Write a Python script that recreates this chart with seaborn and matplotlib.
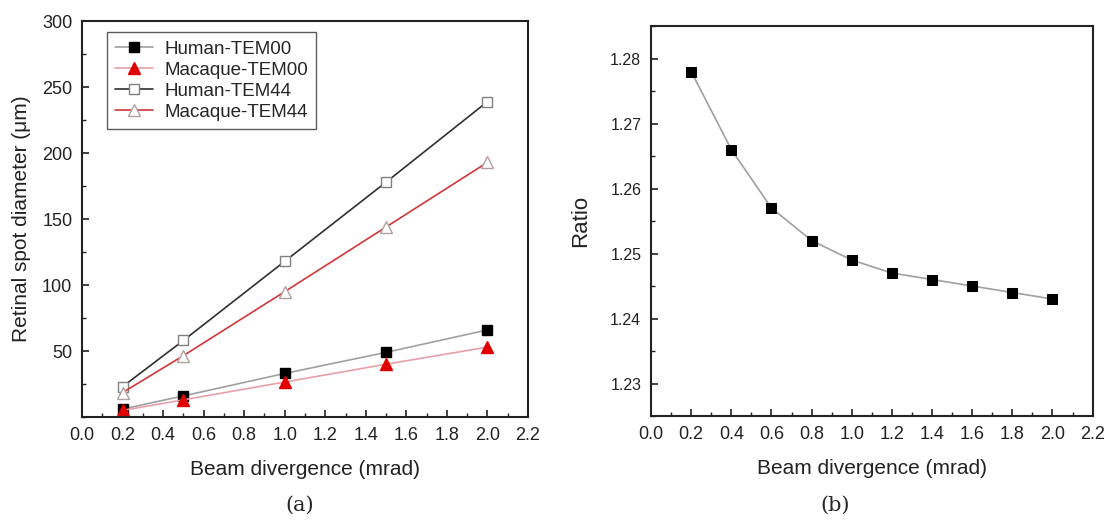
import numpy as np
import pandas as pd
import matplotlib
matplotlib.use("Agg")
import matplotlib.pyplot as plt
from matplotlib.ticker import MultipleLocator, FormatStrFormatter
import seaborn as sns

# panel (a): retinal spot diameter vs beam divergence
div_a = [0.2, 0.5, 1.0, 1.5, 2.0]
human_tem00 = [6, 16, 33, 49, 66]
macaque_tem00 = [5, 13, 26.5, 40, 53]
human_tem44 = [23, 58, 118, 178, 239]
macaque_tem44 = [18.5, 46.5, 95, 144, 193]

# panel (b): ratio human / macaque
div_b = [0.2, 0.4, 0.6, 0.8, 1.0, 1.2, 1.4, 1.6, 1.8, 2.0]
ratio = [1.278, 1.266, 1.257, 1.252, 1.249, 1.247, 1.246, 1.245, 1.244, 1.243]

x_ticks = [0.0, 0.2, 0.4, 0.6, 0.8, 1.0, 1.2, 1.4, 1.6, 1.8, 2.0, 2.2]

sns.set_style("ticks")
plt.rcParams["font.family"] = ["Liberation Sans", "DejaVu Sans"]
plt.rcParams["xtick.direction"] = "in"
plt.rcParams["ytick.direction"] = "in"

fig = plt.figure(figsize=(11.04, 5.27), dpi=100)
ax1 = fig.add_axes([0.0743, 0.2087, 0.4040, 0.7513])
ax2 = fig.add_axes([0.5897, 0.2106, 0.4000, 0.7400])

series = [
    ("Human-TEM00", human_tem00, dict(color="#a0a0a0", marker="s", markerfacecolor="black",
                                      markeredgecolor="black", markersize=7)),
    ("Macaque-TEM00", macaque_tem00, dict(color="#e8a0a8", marker="^", markerfacecolor="#e00000",
                                          markeredgecolor="#e00000", markersize=8)),
    ("Human-TEM44", human_tem44, dict(color="#303030", marker="s", markerfacecolor="white",
                                      markeredgecolor="#808080", markersize=7)),
    ("Macaque-TEM44", macaque_tem44, dict(color="#d03838", marker="^", markerfacecolor="white",
                                          markeredgecolor="#b0a0a0", markersize=9)),
]
for name, vals, style in series:
    sns.lineplot(x=div_a, y=vals, ax=ax1, label=name, linewidth=1.2,
                 markeredgewidth=1.0, **style)

ax1.set_ylim(0, 300)
ax1.set_yticks([50, 100, 150, 200, 250, 300])
ax1.yaxis.set_minor_locator(MultipleLocator(25))
ax1.set_xlabel("Beam divergence (mrad)", fontsize=15, labelpad=12, color="#222222")
ax1.set_ylabel("Retinal spot diameter (\u03bcm)", fontsize=15, labelpad=8, color="#222222")
leg = ax1.legend(loc="upper left", bbox_to_anchor=(0.035, 0.995), fontsize=13.5,
                 frameon=True, fancybox=False, edgecolor="#333333", handlelength=2.0,
                 borderpad=0.45, labelspacing=0.2, handletextpad=0.6)
leg.get_frame().set_linewidth(1.0)

sns.lineplot(x=div_b, y=ratio, ax=ax2, color="#a0a0a0", linewidth=1.2, marker="s",
             markerfacecolor="black", markeredgecolor="black", markersize=7)
ax2.set_ylim(1.225, 1.285)
ax2.set_yticks([1.23, 1.24, 1.25, 1.26, 1.27, 1.28])
ax2.yaxis.set_minor_locator(MultipleLocator(0.005))
ax2.set_xlabel("Beam divergence (mrad)", fontsize=15, labelpad=12, color="#222222")
ax2.set_ylabel("Ratio", fontsize=16, labelpad=14, color="#222222")

for ax in (ax1, ax2):
    ax.set_xticks(x_ticks)
    ax.xaxis.set_major_formatter(FormatStrFormatter("%.1f"))
    ax.xaxis.set_minor_locator(MultipleLocator(0.1))
    ax.set_xlim(0, 2.2)
    for sp in ax.spines.values():
        sp.set_visible(True)
        sp.set_linewidth(1.5)
        sp.set_color("#222222")
    ax.tick_params(which="major", length=5, width=1.2, labelsize=13, colors="#222222",
                   top=False, right=False, pad=7)
    ax.tick_params(which="minor", length=3, width=1.0, top=False, right=False)
ax2.tick_params(axis="y", labelsize=11.5)

fig.text(0.2717, 0.03, "(a)", ha="center", fontsize=15, family=["DejaVu Serif"])
fig.text(0.7563, 0.03, "(b)", ha="center", fontsize=15, family=["DejaVu Serif"])

fig.savefig("out.png", dpi=100)
